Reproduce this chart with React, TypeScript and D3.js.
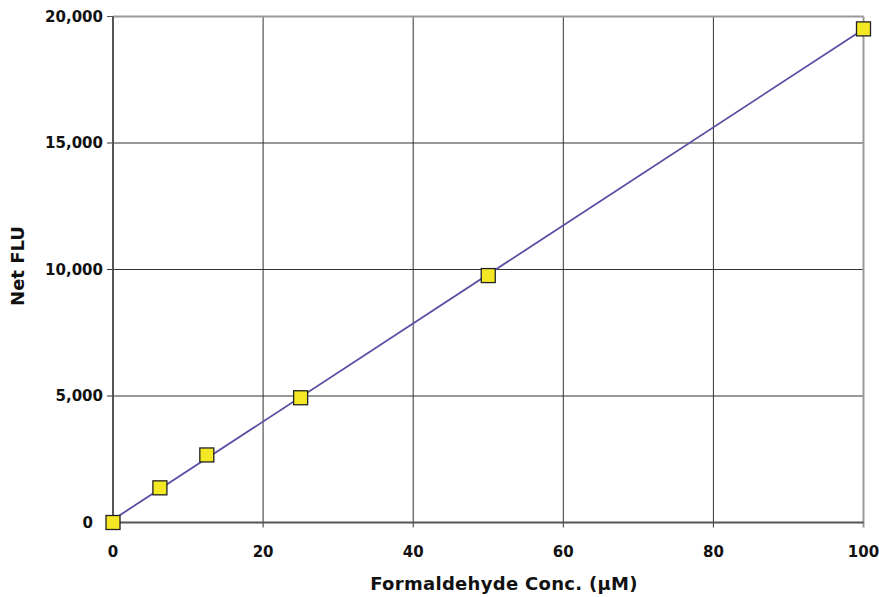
import React from "react";
import * as d3 from "d3";

const concentrations = [0, 6.25, 12.5, 25, 50, 100];
const netFlu = [0, 1370, 2670, 4930, 9760, 19510];
const xTicks = [0, 20, 40, 60, 80, 100];
const yTicks = [0, 5000, 10000, 15000, 20000];
const xTitle = "Formaldehyde Conc. (µM)";
const yTitle = "Net FLU";

const W = 879;
const H = 597;
const M = { left: 113, right: 15.5, top: 16.5, bottom: 74.5 };

export default function App() {
  const x = d3.scaleLinear().domain([0, 100]).range([M.left, W - M.right]);
  const y = d3.scaleLinear().domain([0, 20000]).range([H - M.bottom, M.top]);

  // least-squares trendline
  const mx = d3.mean(concentrations)!;
  const my = d3.mean(netFlu)!;
  let sxy = 0, sxx = 0;
  concentrations.forEach((c, i) => {
    sxy += (c - mx) * (netFlu[i] - my);
    sxx += (c - mx) * (c - mx);
  });
  const slope = sxy / sxx;
  const intercept = my - slope * mx;
  const line = d3
    .line<number>()
    .x((d) => x(d))
    .y((d) => y(intercept + slope * d));

  const fmt = d3.format(",");
  const font = "'DejaVu Sans', sans-serif";
  const x0 = x(0), x1 = x(100), y0 = y(0), y1 = y(20000);
  const ms = 14;

  return (
    <svg width={W} height={H} style={{ position: "absolute", left: 0, top: 0 }}>
      <rect width={W} height={H} fill="#fff" />
      {/* gridlines */}
      {xTicks.slice(1, -1).map((t) => (
        <line key={"gx" + t} x1={x(t)} x2={x(t)} y1={y1} y2={y0 + 5} stroke="#333" strokeWidth={1} />
      ))}
      {yTicks.slice(1, -1).map((t) => (
        <line key={"gy" + t} x1={x0 - 6} x2={x1} y1={y(t)} y2={y(t)} stroke="#333" strokeWidth={1} />
      ))}
      {/* top & right border */}
      <line x1={x0} x2={x1} y1={y1} y2={y1} stroke="#999" strokeWidth={2} />
      <line x1={x1} x2={x1} y1={y1} y2={y0 + 5} stroke="#999" strokeWidth={2} />
      <line x1={x0 - 6} x2={x0} y1={y1} y2={y1} stroke="#555" strokeWidth={1} />
      {/* axes */}
      <line x1={x0} x2={x0} y1={y1} y2={y0 + 5} stroke="#555" strokeWidth={2} />
      <line x1={x0 - 6} x2={x1} y1={y0} y2={y0} stroke="#555" strokeWidth={2} />
      {/* tick labels */}
      {yTicks.map((t) => (
        <text
          key={"yl" + t}
          x={x0 - (t === 0 ? 20 : 10)}
          y={y(t)}
          dy="0.36em"
          textAnchor="end"
          fontFamily={font}
          fontWeight="bold"
          fontSize={15}
          fill="#111"
        >
          {fmt(t)}
        </text>
      ))}
      {xTicks.map((t) => (
        <text
          key={"xl" + t}
          x={x(t)}
          y={y0 + 34}
          textAnchor="middle"
          fontFamily={font}
          fontWeight="bold"
          fontSize={15}
          fill="#111"
        >
          {t}
        </text>
      ))}
      {/* trendline */}
      <path d={line([0, 100])!} fill="none" stroke="#5a4fa3" strokeWidth={1.8} />
      {/* markers */}
      {concentrations.map((c, i) => (
        <rect
          key={"m" + i}
          x={x(c) - ms / 2}
          y={y(netFlu[i]) - ms / 2}
          width={ms}
          height={ms}
          fill="#f4e825"
          stroke="#222"
          strokeWidth={1.3}
        />
      ))}
      {/* titles */}
      <text
        x={504}
        y={590}
        textAnchor="middle"
        fontFamily={font}
        fontWeight="bold"
        fontSize={18}
        letterSpacing={0.3}
        fill="#111"
      >
        {xTitle}
      </text>
      <text
        transform={`translate(24, 266) rotate(-90)`}
        textAnchor="middle"
        fontFamily={font}
        fontWeight="bold"
        fontSize={18}
        fill="#111"
      >
        {yTitle}
      </text>
    </svg>
  );
}
